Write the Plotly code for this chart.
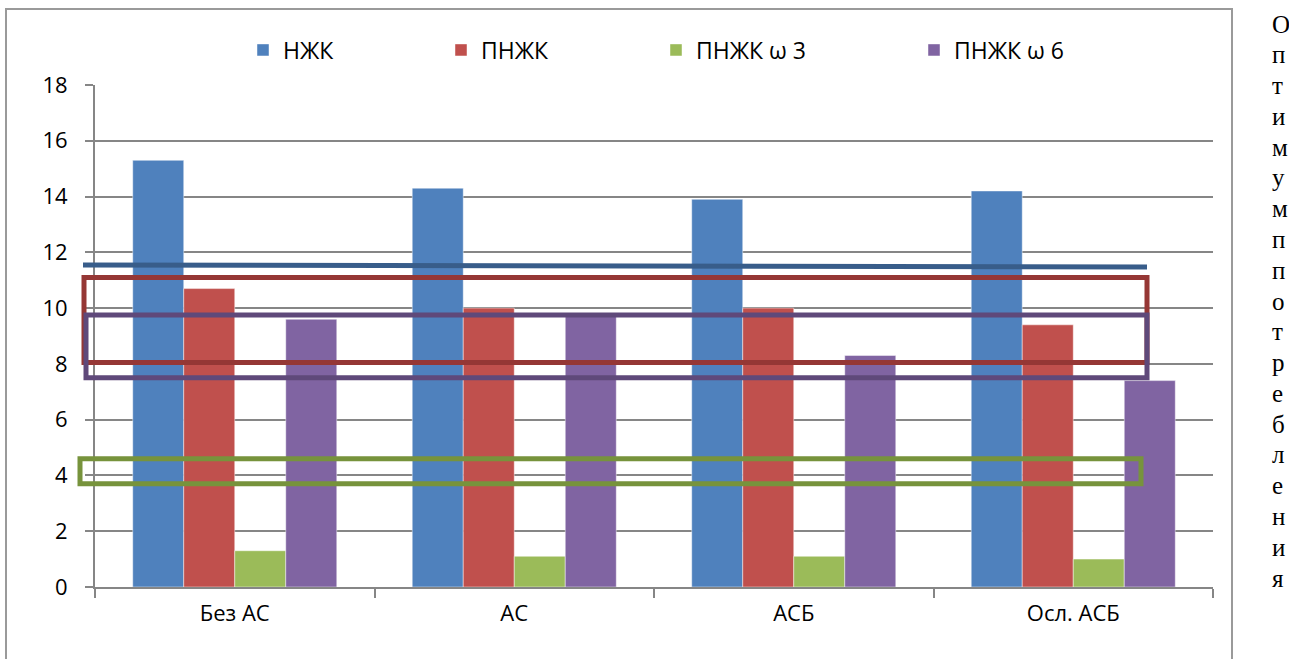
import plotly.graph_objects as go

# ---- data ----
categories = ["Без АС", "АС", "АСБ", "Осл. АСБ"]
series_names = ["НЖК", "ПНЖК", "ПНЖК ω 3", "ПНЖК ω 6"]
nzhk = [15.3, 14.3, 13.9, 14.2]
pnzhk = [10.7, 10.0, 10.0, 9.4]
pnzhk_w3 = [1.3, 1.1, 1.1, 1.0]
pnzhk_w6 = [9.6, 9.8, 8.3, 7.4]
y_tick_values = [0, 2, 4, 6, 8, 10, 12, 14, 16, 18]

# recommended intake levels (y values)
nzhk_norm_line = [11.55, 11.47]      # start / end level of the НЖК line
pnzhk_band = [8.05, 11.1]
w6_band = [7.5, 9.75]
w3_band = [3.7, 4.6]

side_caption = "Оптимумппотребления"

# ---- styling ----
colors = ["#4F81BD", "#C0504D", "#9BBB59", "#8064A2"]
W, H = 1289, 659
ML, MR, MT, MB = 95, 76, 85, 72
PW, PH = W - ML - MR, H - MT - MB
FONT = "Open Sans"
GRID = "#868686"


def px(x):
    return (x - ML) / PW


def py(y):
    return (H - MB - y) / PH


fig = go.Figure()
values = [nzhk, pnzhk, pnzhk_w3, pnzhk_w6]
legend_ids = ["legend", "legend2", "legend3", "legend4"]
for name, vals, col, lg in zip(series_names, values, colors, legend_ids):
    fig.add_trace(go.Bar(
        x=categories, y=vals, name=name, legend=lg,
        marker=dict(color=col, line=dict(color="rgba(255,255,255,0.45)", width=1)),
    ))

shapes = []
# chart frame
shapes.append(dict(type="rect", xref="paper", yref="paper",
                   x0=px(6), x1=px(1232), y0=py(700), y1=py(9),
                   line=dict(color="#9a9a9a", width=2), layer="below"))
# НЖК norm line
shapes.append(dict(type="line", xref="paper", yref="y",
                   x0=px(83), x1=px(1147), y0=nzhk_norm_line[0], y1=nzhk_norm_line[1],
                   line=dict(color="#385D8A", width=5), layer="above"))
# ПНЖК band
shapes.append(dict(type="rect", xref="paper", yref="y",
                   x0=px(84), x1=px(1147), y0=pnzhk_band[0], y1=pnzhk_band[1],
                   line=dict(color="#953735", width=5), layer="above"))
# ω 6 band
shapes.append(dict(type="rect", xref="paper", yref="y",
                   x0=px(86), x1=px(1147), y0=w6_band[0], y1=w6_band[1],
                   line=dict(color="#5F497A", width=5), layer="above"))
# ω 3 band
shapes.append(dict(type="rect", xref="paper", yref="y",
                   x0=px(80), x1=px(1141), y0=w3_band[0], y1=w3_band[1],
                   line=dict(color="#77933C", width=5), layer="above"))

# vertical caption, one character per line
annotations = []
n = len(side_caption)
top_c, bot_c = 24, 578
for i, ch in enumerate(side_caption):
    yc = top_c + i * (bot_c - top_c) / (n - 1)
    annotations.append(dict(text=ch, xref="paper", yref="paper",
                            x=px(1270), y=py(yc), xanchor="left", yanchor="middle",
                            showarrow=False,
                            font=dict(family="Liberation Serif", size=25, color="#000000")))

legend_text_starts = [283, 481, 696, 954]
legend_common = dict(orientation="h", yanchor="middle", xanchor="left",
                     font=dict(family=FONT, size=23, color="#000000"),
                     bgcolor="rgba(0,0,0,0)", borderwidth=0)
layout_legends = {}
for lg, xs in zip(legend_ids, legend_text_starts):
    layout_legends[lg] = dict(legend_common, x=px(xs - 40), y=py(50))

fig.update_layout(
    width=W, height=H, autosize=False,
    margin=dict(l=ML, r=MR, t=MT, b=MB, pad=0),
    paper_bgcolor="white", plot_bgcolor="white",
    barmode="group", bargap=0.27, bargroupgap=0,
    showlegend=True,
    shapes=shapes, annotations=annotations,
    font=dict(family=FONT, size=22, color="#000000"),
    xaxis=dict(
        showline=True, linecolor=GRID, linewidth=2,
        ticks="outside", tickson="boundaries", ticklen=9, tickcolor=GRID, tickwidth=2,
        showgrid=False, tickfont=dict(family=FONT, size=22, color="#000000"),
        ticklabelstandoff=6,
    ),
    yaxis=dict(
        range=[0, 18], tickvals=y_tick_values,
        showline=True, linecolor=GRID, linewidth=2,
        ticks="outside", ticklen=8, tickcolor=GRID, tickwidth=2,
        showgrid=True, gridcolor=GRID, gridwidth=1.7, zeroline=False,
        tickfont=dict(family=FONT, size=22, color="#000000"),
        ticklabelstandoff=13,
    ),
    **layout_legends,
)

fig.write_html("out.html")
